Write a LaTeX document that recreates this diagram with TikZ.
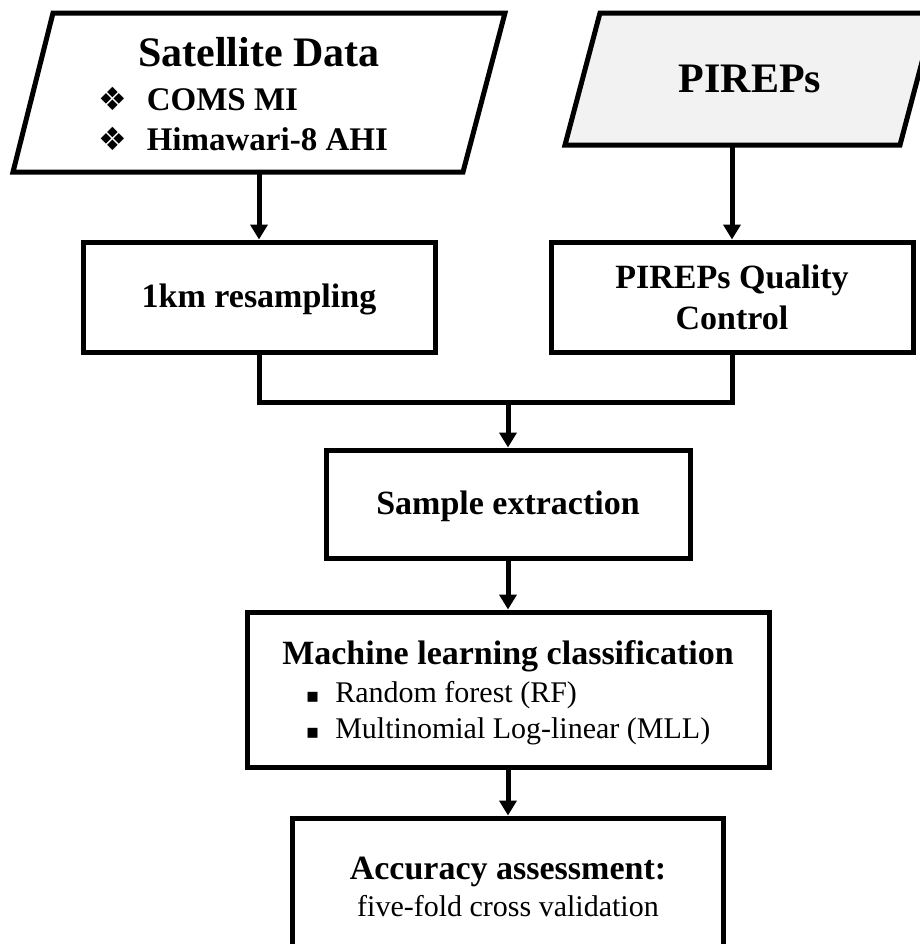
\documentclass[tikz,border=0pt]{standalone}
\usepackage{fontspec}
\setmainfont{Liberation Serif}
\newfontfamily\dingfont{DejaVu Sans}
\usepackage{tikz}
\usetikzlibrary{arrows.meta}
\definecolor{paneigray}{HTML}{F2F2F2}

\begin{document}
\begin{tikzpicture}[x=0.5pt, y=-0.5pt,
  box/.style={draw, line width=2.5pt, align=center, inner sep=0pt},
  link/.style={line width=2.5pt},
  arr/.style={link, -{Triangle[width=8.5pt,length=7.5pt]}},
  big/.style={font=\bfseries\fontsize{21}{24}\selectfont},
  bf/.style={font=\bfseries\fontsize{17}{20.5}\selectfont},
  rm/.style={font=\normalfont\fontsize{15}{18.25}\selectfont}]
  \useasboundingbox (0,0) rectangle (920,944);
  \clip (0,0) rectangle (920,944);

  % input data
  \draw[link] (53,13) -- (505,13) -- (463,172) -- (13,172) -- cycle;
  \node[align=center, inner sep=0pt, minimum width=246pt, minimum height=79.5pt,
        font=\bfseries\fontsize{16.5}{20}\selectfont] (sat) at (259,92.5)
    {\rule{0pt}{21.5pt}{\fontsize{21}{24}\selectfont Satellite Data}\\[2pt]
     \begin{tabular}[t]{@{}l@{}}
       {\dingfont\fontsize{16}{16}\selectfont ❖}\hspace{10pt}COMS MI\\
       {\dingfont\fontsize{16}{16}\selectfont ❖}\hspace{10pt}Himawari-8 AHI
     \end{tabular}\hspace*{16pt}};
  \filldraw[link, fill=paneigray] (600,13) -- (935,13) -- (900,145) -- (565,145) -- cycle;
  \node[big, inner sep=0pt, minimum width=185pt, minimum height=66pt] (pireps) at (750,79) {PIREPs};

  % processing steps
  \node[box, bf, minimum width=176pt, minimum height=55pt] (resamp) at (259,297) {\rule{0pt}{14pt}1km resampling};
  \node[box, bf, minimum width=181pt, minimum height=55pt] (pqc) at (732,297) {PIREPs Quality\\Control};
  \node[box, bf, minimum width=182pt, minimum height=54pt] (sample) at (508,504) {\rule{0pt}{14pt}Sample extraction};
  \node[box, bf, minimum width=261pt, minimum height=77.5pt] (ml) at (508,689.5)
    {\rule{0pt}{17.5pt}Machine learning classification\\[-1.5pt]
     {\normalfont\fontsize{15}{18.25}\selectfont
     \begin{tabular}[t]{@{}l@{}}
       {\dingfont\fontsize{10}{10}\selectfont ▪}\hspace{8pt}Random forest (RF)\\
       {\dingfont\fontsize{10}{10}\selectfont ▪}\hspace{8pt}Multinomial Log-linear (MLL)
     \end{tabular}}};
  \node[box, bf, minimum width=215.5pt, minimum height=69pt] (acc) at (508,887)
    {Accuracy assessment:\\[-2pt]{\normalfont\fontsize{15}{18}\selectfont five-fold cross validation}};

  % connectors
  \coordinate (join) at (508,402);
  \draw[arr] (sat.south) -- (resamp.north);
  \draw[arr] (pqc.north |- pireps.south) -- (pqc.north);
  \draw[link] (resamp.south) |- (join) -| (pqc.south);
  \draw[arr] (join) -- (sample.north);
  \draw[arr] (sample.south) -- (ml.north);
  \draw[arr] (ml.south) -- (acc.north);
\end{tikzpicture}
\end{document}
